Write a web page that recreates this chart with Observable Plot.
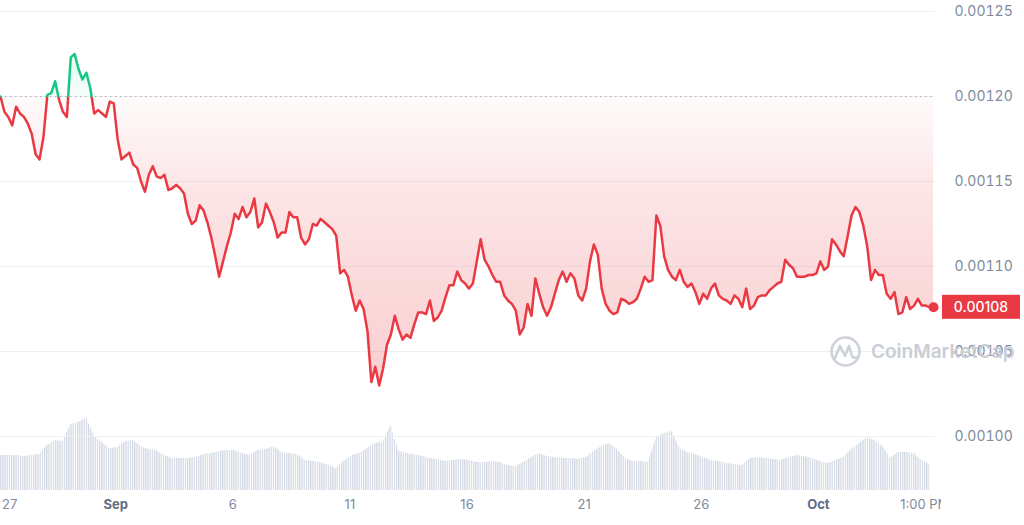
<!DOCTYPE html>
<html><head><meta charset="utf-8">
<script src="https://cdn.jsdelivr.net/npm/d3@7"></script>
<script src="https://cdn.jsdelivr.net/npm/@observablehq/plot@0.6"></script>
<style>
html,body{margin:0;padding:0;background:#fff;}
#wrap{position:relative;width:1024px;height:525px;overflow:hidden;font-family:Inter,"Noto Sans",sans-serif;background:#fff;}
#wrap svg{position:absolute;left:0;top:0;}
</style></head><body><div id="wrap"></div>
<script>
// ---------- data ----------
const startTime = "2023-08-27T02:00:00Z";
const endTime = "2023-10-06T00:00:00Z";
const priceStepHours = 4;
const volumeStepHours = 8;

const prices = [
0.001200,0.001191,0.001188,0.001183,0.001194,0.001190,0.001188,0.001184,0.001178,0.001166,
0.001163,0.001176,0.001201,0.001202,0.001209,0.001198,0.001191,0.001188,0.001223,0.001225,
0.001216,0.001210,0.001214,0.001205,0.001190,0.001192,0.001190,0.001188,0.001197,0.001196,
0.001175,0.001163,0.001165,0.001167,0.001160,0.001158,0.001150,0.001144,0.001154,0.001159,
0.001153,0.001152,0.001154,0.001145,0.001146,0.001148,0.001146,0.001143,0.001131,0.001125,
0.001127,0.001136,0.001133,0.001126,0.001117,0.001106,0.001094,0.001103,0.001112,0.001120,
0.001131,0.001128,0.001135,0.001129,0.001132,0.001140,0.001123,0.001126,0.001137,0.001132,
0.001126,0.001117,0.001120,0.001120,0.001132,0.001129,0.001129,0.001117,0.001113,0.001116,
0.001125,0.001124,0.001128,0.001126,0.001124,0.001122,0.001118,0.001096,0.001098,0.001094,
0.001083,0.001074,0.001080,0.001075,0.001062,0.001032,0.001041,0.001030,0.001040,0.001054,
0.001060,0.001071,0.001063,0.001057,0.001060,0.001058,0.001066,0.001073,0.001073,0.001072,
0.001080,0.001068,0.001070,0.001074,0.001082,0.001089,0.001089,0.001097,0.001092,0.001090,
0.001087,0.001090,0.001103,0.001116,0.001104,0.001100,0.001095,0.001091,0.001091,0.001083,
0.001080,0.001078,0.001074,0.001060,0.001064,0.001078,0.001071,0.001093,0.001084,0.001076,
0.001071,0.001076,0.001084,0.001092,0.001097,0.001091,0.001096,0.001093,0.001083,0.001080,
0.001087,0.001103,0.001113,0.001107,0.001087,0.001078,0.001074,0.001072,0.001073,0.001081,
0.001080,0.001078,0.001079,0.001081,0.001087,0.001094,0.001091,0.001092,0.001130,0.001124,
0.001106,0.001098,0.001094,0.001092,0.001098,0.001091,0.001088,0.001090,0.001085,0.001078,
0.001084,0.001081,0.001087,0.001090,0.001083,0.001081,0.001080,0.001078,0.001083,0.001081,
0.001076,0.001087,0.001075,0.001077,0.001082,0.001083,0.001083,0.001086,0.001088,0.001090,
0.001091,0.001104,0.001101,0.001099,0.001094,0.001094,0.001094,0.001095,0.001095,0.001096,
0.001103,0.001098,0.001100,0.001116,0.001113,0.001109,0.001106,0.001118,0.001130,0.001135,
0.001132,0.001124,0.001112,0.001092,0.001098,0.001095,0.001095,0.001084,0.001081,0.001085,
0.001072,0.001073,0.001082,0.001075,0.001077,0.001081,0.001077,0.001077,0.001076,0.001076
];

// trading volume (relative units, millions)
const volumes = [
35,35,35,34,35,36,45,50,49,66,
68,73,54,48,42,43,49,50,44,41,
40,35,32,32,32,33,36,37,39,40,
40,37,35,40,41,44,38,37,36,30,
29,28,25,22,29,35,37,42,47,48,
65,39,37,36,34,32,31,29,30,31,
30,28,28,29,28,25,24,28,33,37,
34,33,32,32,31,33,39,44,47,41,
32,29,29,28,53,57,59,42,38,36,
33,30,29,27,26,25,32,33,32,31,
30,33,35,34,32,29,27,30,33,41,
47,53,50,44,32,38,38,37,30,26
];

const yTicks = [0.00100, 0.00105, 0.00110, 0.00115, 0.00120, 0.00125];

const xTickDates = ["2023-08-27T00:00:00Z","2023-09-01T00:00:00Z","2023-09-06T00:00:00Z","2023-09-11T00:00:00Z","2023-09-16T00:00:00Z","2023-09-21T00:00:00Z","2023-09-26T00:00:00Z","2023-10-01T00:00:00Z","2023-10-05T13:00:00Z"];
const xTickLabels = ["27","Sep","6","11","16","21","26","Oct","1:00 PM"];
const xTickKinds = ["edge","month","day","day","day","day","day","month","time"];

// ---------- build ----------
const t0 = new Date(startTime);
const tEnd = new Date(endTime);
const H = 3600e3;
const priceData = prices.map((p, i) => ({date: new Date(+t0 + i * priceStepHours * H), price: p}));
const volumeData = volumes.map((v, j) => ({date: new Date(+t0 + j * volumeStepHours * H), volume: v}));
const xTicks = xTickDates.map((d, i) => ({date: new Date(d), label: xTickLabels[i], kind: xTickKinds[i]}));
const base = prices[0];
const last = priceData[priceData.length - 1];

const RED = "#ea3943", GREEN = "#16c784", GREY = "#808a9d";
const FONT = "Inter, 'Noto Sans', sans-serif";

const xScale = {type: "utc", domain: [t0, tEnd], range: [0, 935]};

// bottom layer: volume + time labels
const volumeChart = Plot.plot({
  width: 1024, height: 525,
  marginTop: 0, marginBottom: 0, marginLeft: 0, marginRight: 83,
  x: {...xScale, axis: null},
  y: {domain: [0, 75], range: [490, 415], axis: null},
  style: {background: "#fff", fontFamily: FONT},
  marks: [
    Plot.areaY(volumeData, {x: "date", y: "volume", fill: "url(#volStripes)"}),
    Plot.text(xTicks.filter(d => d.kind === "day"), {x: "date", text: "label", frameAnchor: "bottom", dy: -17, fontSize: 13, fill: GREY}),
    Plot.text(xTicks.filter(d => d.kind === "edge"), {x: "date", text: "label", frameAnchor: "bottom", dy: -17, dx: 3.5, textAnchor: "start", fontSize: 13, fill: GREY}),
    Plot.text(xTicks.filter(d => d.kind === "month"), {x: "date", text: "label", frameAnchor: "bottom", dy: -17, fontSize: 13, fontWeight: "bold", fill: "#616e85"}),
    Plot.text(xTicks.filter(d => d.kind === "time"), {x: "date", text: "label", frameAnchor: "bottom", dy: -17, fontSize: 13, fill: GREY, clip: "frame"})
  ]
});

// top layer: price
const priceChart = Plot.plot({
  width: 1024, height: 525,
  marginTop: 0, marginBottom: 0, marginLeft: 0, marginRight: 89,
  x: {...xScale, axis: null},
  y: {domain: [0.00100, 0.00125], range: [436, 11], label: null},
  style: {background: "transparent", fontFamily: FONT, overflow: "visible"},
  marks: [
    Plot.gridY(yTicks, {stroke: "#eef0f4", strokeOpacity: 1}),
    Plot.areaY(priceData, {x: "date", y1: base, y2: "price", fill: "url(#areaGrad)"}),
    Plot.ruleY([base], {stroke: "#a9b0bf", strokeDasharray: "1.5,3.5"}),
    Plot.lineY(priceData, {x: "date", y: "price", stroke: "url(#lineGrad)", strokeWidth: 2.5, strokeLinejoin: "round"}),
    Plot.dot([last], {x: "date", y: "price", r: 5, fill: RED}),
    Plot.axisY(yTicks, {anchor: "right", label: null, tickSize: 0, tickPadding: 19, tickFormat: d3.format(".5f"), fontSize: 14, color: GREY})
  ]
});

// patterns / gradients
{
  const defs = d3.select(volumeChart).insert("defs", ":first-child");
  const pat = defs.append("pattern").attr("id", "volStripes").attr("patternUnits", "userSpaceOnUse")
    .attr("width", 2.2).attr("height", 20);
  pat.append("rect").attr("width", 1.25).attr("height", 20).attr("fill", "#d2d8e3");
}
{
  const y = priceChart.scale("y");
  const yb = y.apply(base) / 525;
  const defs = d3.select(priceChart).insert("defs", ":first-child");
  const lg = defs.append("linearGradient").attr("id", "lineGrad").attr("gradientUnits", "userSpaceOnUse")
    .attr("x1", 0).attr("y1", 0).attr("x2", 0).attr("y2", 525);
  [[0, GREEN], [yb, GREEN], [yb, RED], [1, RED]].forEach(([o, c]) =>
    lg.append("stop").attr("offset", o).attr("stop-color", c));
  const ag = defs.append("linearGradient").attr("id", "areaGrad").attr("gradientUnits", "userSpaceOnUse")
    .attr("x1", 0).attr("y1", 0).attr("x2", 0).attr("y2", 525);
  [[0, GREEN, 0.2], [yb, GREEN, 0.04], [yb, RED, 0.02], [190 / 525, RED, 0.13], [390 / 525, RED, 0.25], [1, RED, 0.25]]
    .forEach(([o, c, a]) => ag.append("stop").attr("offset", o).attr("stop-color", c).attr("stop-opacity", a));

  const svg = d3.select(priceChart);
  // watermark
  const wm = svg.append("g").attr("fill", "none").attr("stroke", "#cdd1d9");
  wm.append("circle").attr("cx", 845.5).attr("cy", 351.5).attr("r", 14).attr("stroke-width", 2.6);
  wm.append("path").attr("d", "M835,358 L840,346 L845,356 L849,346 L852,356 Q854,359 857,357")
    .attr("stroke-width", 2.6).attr("stroke-linejoin", "round").attr("stroke-linecap", "round");
  svg.append("text").attr("x", 871).attr("y", 358).attr("text-anchor", "start").attr("fill", "#c9cdd6")
    .attr("font-size", 19).attr("font-weight", 600).attr("font-family", FONT).text("CoinMarketCap");
  // current price badge
  const yl = y.apply(last.price);
  svg.append("rect").attr("x", 942).attr("y", yl - 12).attr("width", 78).attr("height", 24).attr("fill", RED);
  svg.append("text").attr("x", 981).attr("y", yl).attr("dy", "0.35em").attr("text-anchor", "middle")
    .attr("fill", "#fff").attr("font-size", 14).attr("font-weight", 500).attr("font-family", FONT)
    .text(d3.format(".5f")(last.price));
}

const wrap = document.getElementById("wrap");
wrap.appendChild(volumeChart);
wrap.appendChild(priceChart);
</script></body></html>
